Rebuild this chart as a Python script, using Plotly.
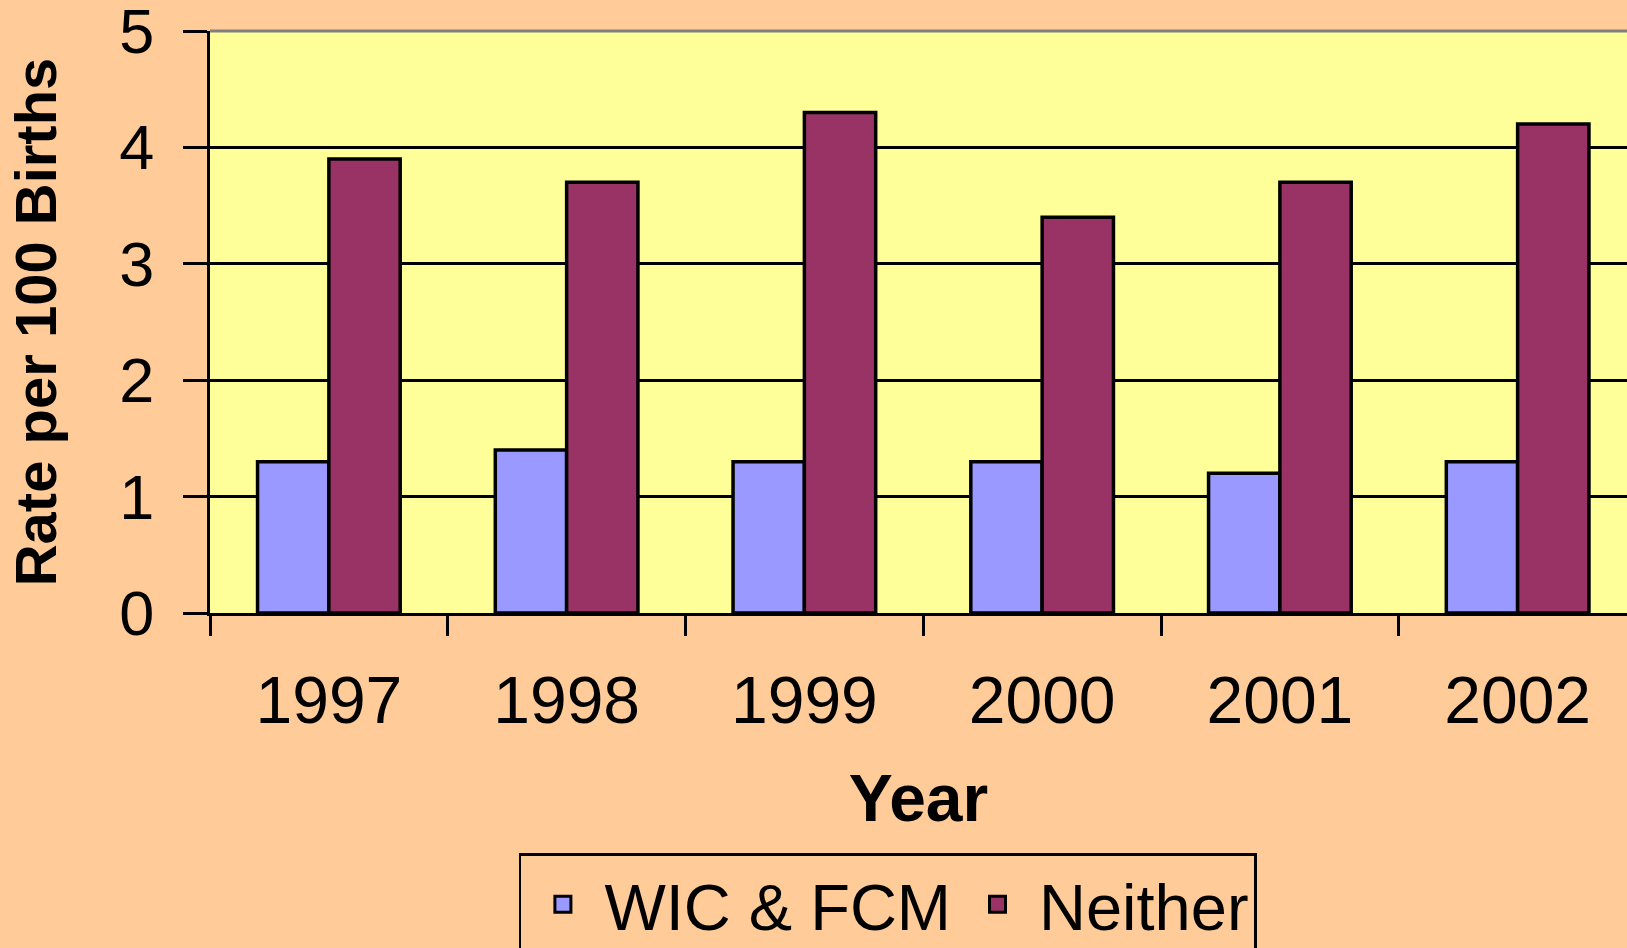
import plotly.graph_objects as go

# data
years = ["1997", "1998", "1999", "2000", "2001", "2002"]
wic_fcm = [1.3, 1.4, 1.3, 1.3, 1.2, 1.3]
neither = [3.9, 3.7, 4.3, 3.4, 3.7, 4.2]
y_ticks = [0, 1, 2, 3, 4, 5]

font_family = "Liberation Sans, Arial, sans-serif"
col_wic = "#9999FF"
col_neither = "#993366"

fig = go.Figure()
fig.add_trace(go.Bar(x=years, y=wic_fcm, name="WIC & FCM", marker_color=col_wic,
                     marker_line=dict(color="black", width=3.5), showlegend=False))
fig.add_trace(go.Bar(x=years, y=neither, name="Neither", marker_color=col_neither,
                     marker_line=dict(color="black", width=3.5), showlegend=False))

# legend entries with bigger square symbols
for nm, c in [("WIC & FCM", col_wic), ("Neither", col_neither)]:
    fig.add_trace(go.Scatter(x=[None], y=[None], mode="markers", name=nm,
                             marker=dict(symbol="square", size=16, color=c,
                                         line=dict(color="black", width=3))))

fig.update_layout(
    width=1627, height=948,
    margin=dict(l=210, r=0, t=31, b=335),
    paper_bgcolor="#FFCC99",
    plot_bgcolor="#FFFF99",
    barmode="group",
    bargap=0.40,
    bargroupgap=0,
    font=dict(family=font_family, color="black"),
    xaxis=dict(
        type="category",
        range=[-0.5, 5.46],
        tickson="boundaries",
        ticks="outside", ticklen=20, tickwidth=3, tickcolor="black",
        showline=True, linecolor="black", linewidth=3,
        showgrid=False,
        tickfont=dict(size=66),
        ticklabelstandoff=28,
        automargin=False,
        title=dict(text="<b>Year</b>", font=dict(size=66), standoff=39),
    ),
    yaxis=dict(
        range=[0, 5],
        tickvals=y_ticks,
        ticks="outside", ticklen=24, tickwidth=3, tickcolor="black",
        ticklabelstandoff=16,
        ticklabeloverflow="allow",
        automargin=False,
        showline=True, linecolor="black", linewidth=3,
        showgrid=True, gridcolor="black", gridwidth=3,
        zeroline=False,
        tickfont=dict(size=63),
        title=dict(text="<b>Rate per 100 Births</b>", font=dict(size=58), standoff=45),
    ),
    legend=dict(
        orientation="h",
        x=0.218, xanchor="left", xref="paper",
        y=0.1002, yanchor="top", yref="container",
        bgcolor="#FFCC99",
        bordercolor="black", borderwidth=2.5,
        itemwidth=73,
        font=dict(size=65),
    ),
    shapes=[dict(type="line", xref="paper", yref="paper", x0=0, x1=1, y0=1, y1=1,
                 line=dict(color="#808080", width=3), layer="above")],
)

fig.write_html("out.html", config={"displayModeBar": False},
               post_script="document.body.style.margin='0';")
